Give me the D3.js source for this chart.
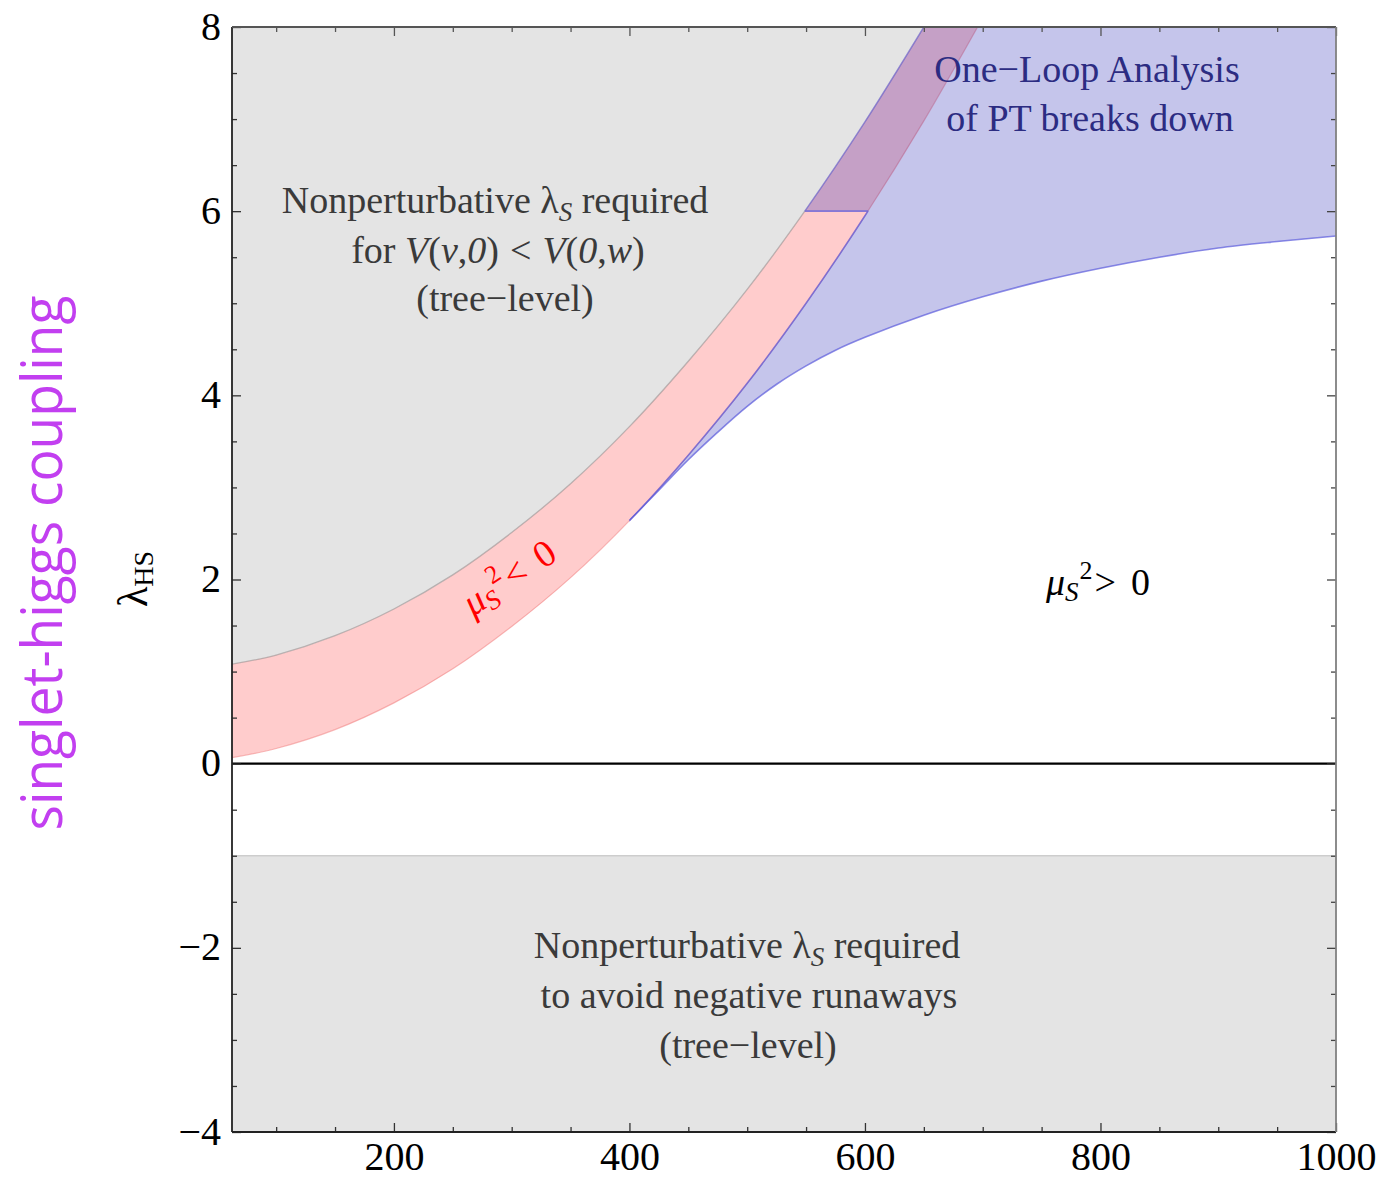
<!DOCTYPE html>
<html>
<head>
<meta charset="utf-8">
<script src="https://cdn.jsdelivr.net/npm/d3@7"></script>
<style>
  html, body { margin: 0; padding: 0; background: #ffffff; }
  svg { display: block; }
</style>
</head>
<body>
<svg id="chart" width="1383" height="1179"></svg>
<script>
// ---------------- data ----------------
const xDomain = [62.5, 1000];
const yDomain = [-4, 8];
const xTicksMajor = [200, 400, 600, 800, 1000];
const yTicksMajor = [-4, -2, 0, 2, 4, 6, 8];

// upper edge of the pink band (grey "Nonperturbative ... V(v,0) < V(0,w)" region above it)
const treeUpperMass   = [62.5, 100, 150, 200, 250, 300, 350, 400, 450, 500, 550, 600, 650];
const treeUpperLambda = [1.08, 1.18, 1.39, 1.68, 2.05, 2.51, 3.04, 3.66, 4.37, 5.15, 6.02, 6.97, 8.00];

// mu_S^2 = 0 line (lower edge of the pink band)
const muZeroMass   = [62.5, 100, 150, 200, 250, 300, 350, 400, 450, 500, 550, 600, 650, 700];
const muZeroLambda = [0.065, 0.165, 0.37, 0.66, 1.03, 1.49, 2.02, 2.64, 3.35, 4.13, 5.00, 5.95, 6.98, 8.10];

// lower edge of the blue "One-Loop Analysis of PT breaks down" region
const oneLoopMass   = [400, 425, 450, 475, 500, 525, 550, 575, 600, 650, 700, 750, 800, 850, 900, 950, 1000];
const oneLoopLambda = [2.64, 2.97, 3.30, 3.60, 3.88, 4.12, 4.32, 4.49, 4.63, 4.87, 5.07, 5.24, 5.38, 5.50, 5.60, 5.67, 5.73];

// top of the grey negative-runaway band
const runawayLambda = -1.0;
// level above which the one-loop region covers the band
const bandCap = 6;

// ---------------- setup ----------------
const L = 232, R = 1336, T = 27, B = 1132;
const svg = d3.select("#chart");
const x = d3.scaleLinear().domain(xDomain).range([L, R]);
const y = d3.scaleLinear().domain(yDomain).range([B, T]);

const serif = "'Liberation Serif', 'Times New Roman', Times, serif";
const zip = (a, b) => a.map((v, i) => [v, b[i]]);
const upperPts = zip(treeUpperMass, treeUpperLambda);
const muPts = zip(muZeroMass, muZeroLambda);
const loopPts = zip(oneLoopMass, oneLoopLambda);

const line = d3.line().x(d => x(d[0])).y(d => y(d[1])).curve(d3.curveCatmullRom.alpha(0.5));

const defs = svg.append("defs");
defs.append("clipPath").attr("id", "plotClip")
  .append("rect").attr("x", L).attr("y", T).attr("width", R - L).attr("height", B - T);

// above the one-loop curve
defs.append("clipPath").attr("id", "aboveLoop")
  .append("path")
  .attr("d", line(loopPts) + `L${x(1000) + 50},${y(8) - 50}L${x(400)},${y(8) - 50}Z`);

// below / right of the mu=0 line, or above the cap
const cpB = defs.append("clipPath").attr("id", "belowMuOrCap");
cpB.append("path")
  .attr("d", line(muPts) + `L${x(1000) + 50},${y(8.1)}L${x(1000) + 50},${y(-4) + 50}L${x(62.5) - 50},${y(-4) + 50}Z`);
cpB.append("rect").attr("x", L - 50).attr("y", T - 50).attr("width", R - L + 100).attr("height", y(bandCap) - (T - 50));

// pink band shape
const bandPath = line(muPts) + "L" + line(upperPts.slice().reverse()).slice(1) + "Z";
defs.append("clipPath").attr("id", "bandClip").append("path").attr("d", bandPath);

defs.append("clipPath").attr("id", "muSeg")
  .append("rect").attr("x", x(400)).attr("y", y(bandCap)).attr("width", R - x(400) + 10).attr("height", B - y(bandCap));
defs.append("clipPath").attr("id", "aboveCap")
  .append("rect").attr("x", L).attr("y", T).attr("width", R - L).attr("height", y(bandCap) - T);
defs.append("clipPath").attr("id", "belowCap")
  .append("rect").attr("x", L).attr("y", y(bandCap)).attr("width", R - L).attr("height", B - y(bandCap));

const plot = svg.append("g").attr("clip-path", "url(#plotClip)");

// grey negative-runaway band
plot.append("rect")
  .attr("x", L).attr("y", y(runawayLambda))
  .attr("width", R - L).attr("height", y(-4) - y(runawayLambda))
  .attr("fill", "#e4e4e4");
plot.append("line")
  .attr("x1", L).attr("x2", R).attr("y1", y(runawayLambda)).attr("y2", y(runawayLambda))
  .attr("stroke", "#cdcdcd").attr("stroke-width", 1.5);

// pink band
plot.append("path").attr("d", bandPath).attr("fill", "#ffcccc");
plot.append("path").attr("d", line(muPts)).attr("fill", "none")
  .attr("stroke", "rgba(240,130,130,0.55)").attr("stroke-width", 1.2);

// blue one-loop region
const blueFill = "rgba(40,40,180,0.27)";
const blueEdge = "rgba(90,90,220,0.7)";
plot.append("g").attr("clip-path", "url(#aboveLoop)")
  .append("rect").attr("clip-path", "url(#belowMuOrCap)")
  .attr("x", L - 10).attr("y", T - 10).attr("width", R - L + 20).attr("height", B - T + 20)
  .attr("fill", blueFill);
plot.append("path").attr("d", line(loopPts)).attr("fill", "none")
  .attr("stroke", blueEdge).attr("stroke-width", 1.6);
plot.append("g").attr("clip-path", "url(#muSeg)")
  .append("path").attr("d", line(muPts)).attr("fill", "none")
  .attr("stroke", blueEdge).attr("stroke-width", 1.6);
plot.append("g").attr("clip-path", "url(#bandClip)")
  .append("line").attr("x1", L).attr("x2", R).attr("y1", y(bandCap)).attr("y2", y(bandCap))
  .attr("stroke", blueEdge).attr("stroke-width", 1.6);

// grey region above the tree-level curve
plot.append("path")
  .attr("d", line(upperPts) + `L${x(62.5)},${y(8)}Z`)
  .attr("fill", "#e4e4e4");
plot.append("g").attr("clip-path", "url(#belowCap)")
  .append("path").attr("d", line(upperPts)).attr("fill", "none")
  .attr("stroke", "rgba(150,140,140,0.6)").attr("stroke-width", 1.3);
plot.append("g").attr("clip-path", "url(#aboveCap)")
  .append("path").attr("d", line(upperPts)).attr("fill", "none")
  .attr("stroke", "rgba(110,100,200,0.7)").attr("stroke-width", 1.5);

// zero line
plot.append("line")
  .attr("x1", L).attr("x2", R).attr("y1", y(0)).attr("y2", y(0))
  .attr("stroke", "#000").attr("stroke-width", 2.4);

// ---------------- axes & frame ----------------
const xMinor = d3.range(100, 1001, 50).filter(v => !xTicksMajor.includes(v));
const yMinor = d3.range(-4, 8.01, 0.5).filter(v => !yTicksMajor.includes(v));

function styleAxis(g, color) {
  g.attr("font-family", serif);
  g.select(".domain").remove();
  g.selectAll(".tick line").attr("stroke", color).attr("stroke-width", 1.3);
  g.selectAll(".tick text").attr("font-family", serif).attr("font-size", 40).attr("fill", "#000");
}
const fmt = v => (v < 0 ? "\u2212" + Math.abs(v) : String(v));

// bottom
svg.append("g").attr("transform", `translate(0,${B})`)
  .call(d3.axisBottom(x).tickValues(xTicksMajor).tickSize(-9).tickPadding(10).tickFormat(fmt))
  .call(g => styleAxis(g, "#333"));
svg.append("g").attr("transform", `translate(0,${B})`)
  .call(d3.axisBottom(x).tickValues(xMinor).tickSize(-5).tickFormat(""))
  .call(g => styleAxis(g, "#333"));
// top
svg.append("g").attr("transform", `translate(0,${T})`)
  .call(d3.axisTop(x).tickValues(xTicksMajor).tickSize(-9).tickFormat(""))
  .call(g => styleAxis(g, "#555"));
svg.append("g").attr("transform", `translate(0,${T})`)
  .call(d3.axisTop(x).tickValues(xMinor).tickSize(-5).tickFormat(""))
  .call(g => styleAxis(g, "#555"));
// left
svg.append("g").attr("transform", `translate(${L},0)`)
  .call(d3.axisLeft(y).tickValues(yTicksMajor).tickSize(-9).tickPadding(11).tickFormat(fmt))
  .call(g => styleAxis(g, "#333"))
  .call(g => g.selectAll(".tick text").attr("dy", "0.3em"));
svg.append("g").attr("transform", `translate(${L},0)`)
  .call(d3.axisLeft(y).tickValues(yMinor).tickSize(-5).tickFormat(""))
  .call(g => styleAxis(g, "#333"));
// right
svg.append("g").attr("transform", `translate(${R},0)`)
  .call(d3.axisRight(y).tickValues(yTicksMajor).tickSize(-9).tickFormat(""))
  .call(g => styleAxis(g, "#444"));
svg.append("g").attr("transform", `translate(${R},0)`)
  .call(d3.axisRight(y).tickValues(yMinor).tickSize(-5).tickFormat(""))
  .call(g => styleAxis(g, "#444"));

// frame
const frame = svg.append("g").attr("fill", "none");
frame.append("line").attr("x1", L).attr("x2", L).attr("y1", T).attr("y2", B).attr("stroke", "#222").attr("stroke-width", 1.8);
frame.append("line").attr("x1", L).attr("x2", R).attr("y1", B).attr("y2", B).attr("stroke", "#222").attr("stroke-width", 1.8);
frame.append("line").attr("x1", L).attr("x2", R).attr("y1", T).attr("y2", T).attr("stroke", "#555").attr("stroke-width", 1.8);
frame.append("line").attr("x1", R).attr("x2", R).attr("y1", T).attr("y2", B).attr("stroke", "#808080").attr("stroke-width", 1.8);

// ---------------- labels ----------------
const yl = svg.append("text")
  .attr("transform", "translate(147,579) rotate(-90)")
  .attr("text-anchor", "middle").attr("font-family", serif).attr("fill", "#000");
yl.append("tspan").attr("font-size", 42).text("\u03bb");
yl.append("tspan").attr("font-size", 28).attr("dy", 6).text("HS");

svg.append("text")
  .attr("transform", "translate(62,563) rotate(-90)")
  .attr("text-anchor", "middle")
  .attr("font-family", "'Open Sans', 'Noto Sans', sans-serif")
  .attr("font-size", 56)
  .attr("textLength", 535).attr("lengthAdjust", "spacingAndGlyphs")
  .attr("fill", "#c23ff0")
  .text("singlet-higgs coupling");

function richLine(parent, cx, by, parts, size, color) {
  const t = parent.append("text").attr("x", cx).attr("y", by)
    .attr("text-anchor", "middle").attr("font-family", serif)
    .attr("font-size", size).attr("fill", color);
  parts.forEach(p => {
    const s = t.append("tspan").text(p.t);
    if (p.i) s.attr("font-style", "italic");
    if (p.fs) s.attr("font-size", p.fs);
    if (p.dy) s.attr("dy", p.dy);
    if (p.dx) s.attr("dx", p.dx);
  });
  return t;
}

const grey = "#3a3a3a";
richLine(svg, 495, 213, [{t: "Nonperturbative \u03bb"}, {t: "S", i: true, fs: 27, dy: 8}, {t: " required", dy: -8}], 38, grey);
richLine(svg, 498, 263, [{t: "for "}, {t: "V", i: true}, {t: "("}, {t: "v", i: true}, {t: ","}, {t: "0", i: true},
  {t: ")"}, {t: "<", dx: 11}, {t: "V", i: true, dx: 11}, {t: "("}, {t: "0", i: true}, {t: ","}, {t: "w", i: true}, {t: ")"}], 38, grey);
richLine(svg, 505, 311, [{t: "(tree\u2212level)"}], 38, grey);

richLine(svg, 747, 958, [{t: "Nonperturbative \u03bb"}, {t: "S", i: true, fs: 27, dy: 8}, {t: " required", dy: -8}], 38, grey);
richLine(svg, 749, 1008, [{t: "to avoid negative runaways"}], 38, grey);
richLine(svg, 748, 1058, [{t: "(tree\u2212level)"}], 38, grey);

const navy = "#2c2c82";
richLine(svg, 1087, 82, [{t: "One\u2212Loop Analysis"}], 38, navy);
richLine(svg, 1090, 131, [{t: "of PT breaks down"}], 38, navy);

function muLabel(sel, rel) {
  sel.append("tspan").attr("font-style", "italic").text("\u03bc");
  sel.append("tspan").attr("font-style", "italic").attr("font-size", 27).attr("dy", 6).text("S");
  sel.append("tspan").attr("font-size", 26).attr("dy", -22).attr("dx", 1).text("2");
  sel.append("tspan").attr("dy", 16).attr("dx", 2).text(rel);
  sel.append("tspan").attr("dx", 15).text("0");
}
muLabel(svg.append("text").attr("x", 1046).attr("y", 595)
  .attr("font-family", serif).attr("font-size", 38).attr("fill", "#000"), ">");

muLabel(svg.append("text").attr("transform", "translate(473,617) rotate(-34)")
  .attr("font-family", serif).attr("font-size", 38).attr("fill", "#ff0000"), "<");
</script>
</body>
</html>
